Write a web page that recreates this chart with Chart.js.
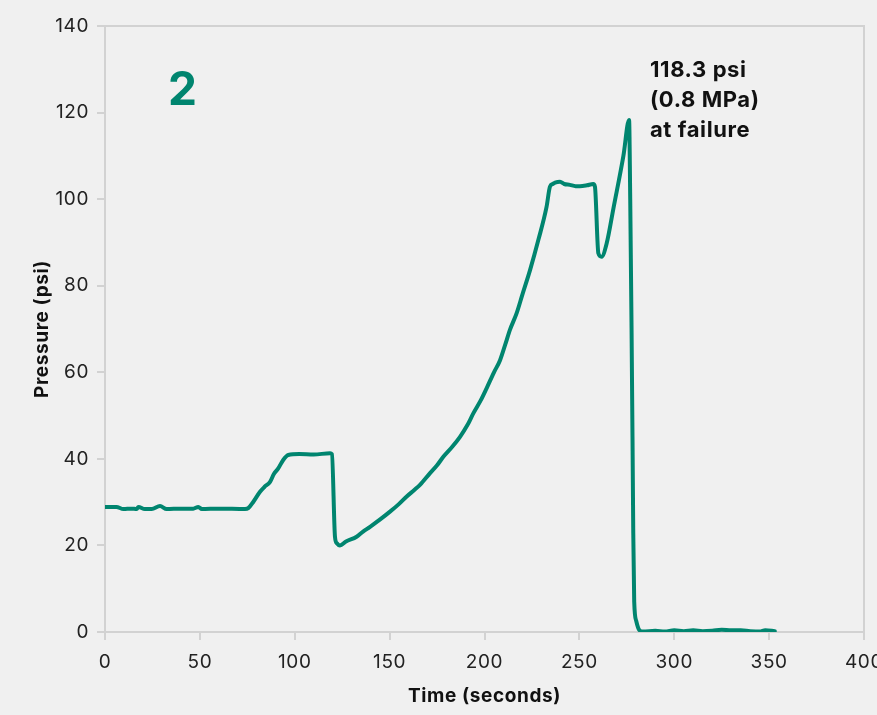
<!DOCTYPE html>
<html>
<head>
<meta charset="utf-8">
<script src="https://cdn.jsdelivr.net/npm/chart.js@4/dist/chart.umd.min.js"></script>
<style>
  html, body { margin: 0; padding: 0; background: #f0f0f0; }
  #wrap { width: 877px; height: 715px; }
</style>
</head>
<body>
<div id="wrap"><canvas id="c" width="877" height="715"></canvas></div>
<script>
// ---- data ----
const timeSeconds = [0, 6, 9.7, 14, 16.7, 17.6, 21, 24.6, 29, 32.5, 40, 46.5, 49.2, 51, 60, 73.8, 75.5, 78.2, 81.7, 84, 87, 89, 91.3, 94, 96.6, 102.4, 110, 118.6, 119.6, 121.2, 122.2, 123.8, 127, 132.6, 136, 139.7, 145, 150.2, 155, 159, 163, 166, 171.3, 175, 178.3, 183, 187.1, 191, 194.1, 198, 201.1, 205, 208.2, 211, 213.4, 216.9, 220, 224, 228.4, 232.7, 234.5, 236, 237.2, 239.8, 242, 245, 248, 250.3, 254, 257.3, 258.2, 260, 261.7, 264.4, 268, 273.2, 276.2, 276.8, 277.5, 278, 278.4, 278.9, 280, 281.5, 283.5, 290, 295, 300, 305, 310, 315, 320, 325, 330, 335, 340, 345, 348, 353];
const pressurePsi = [28.9, 28.9, 28.4, 28.5, 28.4, 28.9, 28.4, 28.4, 29.1, 28.4, 28.5, 28.5, 28.9, 28.4, 28.5, 28.4, 28.6, 30.1, 32.4, 33.5, 34.7, 36.5, 37.8, 39.8, 40.9, 41.1, 41.0, 41.3, 41.1, 22, 20.5, 20.0, 20.9, 22.0, 23.2, 24.3, 26.0, 27.8, 29.6, 31.3, 32.8, 34.0, 36.7, 38.5, 40.5, 42.8, 45.1, 47.8, 50.5, 53.5, 56.3, 60, 62.8, 66.5, 69.8, 73.6, 78, 83.6, 90.6, 98.2, 102.9, 103.5, 103.8, 104, 103.5, 103.3, 103, 103, 103.2, 103.5, 102.9, 87.5, 86.7, 89.8, 98, 110, 118.3, 100, 70, 45, 23, 7, 2.5, 0.5, 0.1, 0.3, 0.1, 0.4, 0.2, 0.4, 0.2, 0.3, 0.5, 0.4, 0.4, 0.2, 0.1, 0.4, 0.2];
const xTicks = [0, 50, 100, 150, 200, 250, 300, 350, 400];
const yTicks = [0, 20, 40, 60, 80, 100, 120, 140];
const panelLabel = "2";
const failureLabel = ["118.3 psi", "(0.8 MPa)", "at failure"];
const xTitle = "Time (seconds)";
const yTitle = "Pressure (psi)";

const TEAL = "#00856f";
const AXIS = "#d2d2d2";
const FONT = "Inter, 'Noto Sans', sans-serif";

const points = timeSeconds.map((t, i) => ({ x: t, y: pressurePsi[i] }));

const bgPlugin = {
  id: 'bg',
  beforeInit(chart) { chart.ctx.letterSpacing = '0.6px'; },
  beforeDraw(chart) {
    const ctx = chart.ctx;
    ctx.letterSpacing = '0.6px';
    ctx.save();
    ctx.fillStyle = '#f0f0f0';
    ctx.fillRect(0, 0, chart.width, chart.height);
    ctx.restore();
  }
};

const annPlugin = {
  id: 'ann',
  afterDatasetsDraw(chart) {
    const ctx = chart.ctx;
    const xs = chart.scales.x, ys = chart.scales.y;
    ctx.save();
    // panel number
    ctx.fillStyle = TEAL;
    ctx.font = "bold 46px " + FONT;
    ctx.textAlign = 'center';
    ctx.textBaseline = 'middle';
    ctx.fillText(panelLabel, xs.getPixelForValue(41), ys.getPixelForValue(125));
    // failure label
    const iPeak = pressurePsi.indexOf(Math.max(...pressurePsi));
    const lx = xs.getPixelForValue(timeSeconds[iPeak] + 11);
    let ly = ys.getPixelForValue(128.3);
    ctx.fillStyle = '#111';
    ctx.font = "bold 22px " + FONT;
    ctx.textAlign = 'left';
    ctx.textBaseline = 'alphabetic';
    failureLabel.forEach((s, k) => ctx.fillText(s, lx, ly + k * 30));
    ctx.restore();
  }
};

function fixY(scale) { scale.width = 105; scale.paddingTop = 0; scale.paddingBottom = 0; }
function fixX(scale) { scale.height = 83; scale.paddingLeft = 0; scale.paddingRight = 0; }

new Chart(document.getElementById('c'), {
  type: 'line',
  data: {
    datasets: [{
      data: points,
      borderColor: TEAL,
      borderWidth: 4,
      pointRadius: 0,
      fill: false,
      cubicInterpolationMode: 'monotone',
      borderCapStyle: 'round',
      borderJoinStyle: 'round'
    }]
  },
  options: {
    responsive: false,
    animation: false,
    devicePixelRatio: 1,
    layout: { padding: { top: 26, right: 13, left: 0, bottom: 0 } },
    plugins: { legend: { display: false }, tooltip: { enabled: false } },
    scales: {
      x: {
        type: 'linear',
        position: 'bottom',
        min: xTicks[0], max: xTicks[xTicks.length - 1],
        afterBuildTicks(s) { s.ticks = xTicks.map(v => ({ value: v })); },
        afterFit: fixX,
        grid: { display: true, drawOnChartArea: false, drawTicks: true, tickLength: 8, color: AXIS, lineWidth: 2 },
        border: { display: true, color: AXIS, width: 2 },
        ticks: { color: '#222', font: { family: FONT, size: 19 }, padding: 11, maxRotation: 0, autoSkip: false },
        title: { display: true, text: xTitle, color: '#111', font: { family: FONT, size: 19, weight: 'bold' }, padding: { top: 4, bottom: 7 } }
      },
      y: {
        type: 'linear',
        position: 'left',
        min: yTicks[0], max: yTicks[yTicks.length - 1],
        afterBuildTicks(s) { s.ticks = yTicks.map(v => ({ value: v })); },
        afterFit: fixY,
        grid: { display: true, drawOnChartArea: false, drawTicks: true, tickLength: 8, color: AXIS, lineWidth: 2 },
        border: { display: true, color: AXIS, width: 2 },
        ticks: { color: '#222', font: { family: FONT, size: 19 }, padding: 8 },
        title: { display: true, text: yTitle, color: '#111', font: { family: FONT, size: 19, weight: 'bold' }, padding: { top: 31, bottom: 0 } }
      },
      x2: {
        type: 'linear', position: 'top', min: 0, max: 1,
        grid: { display: false }, ticks: { display: false },
        border: { display: true, color: AXIS, width: 2 },
        afterFit(s) { s.height = 0; s.paddingLeft = 0; s.paddingRight = 0; }
      },
      y2: {
        type: 'linear', position: 'right', min: 0, max: 1,
        grid: { display: false }, ticks: { display: false },
        border: { display: true, color: AXIS, width: 2 },
        afterFit(s) { s.width = 0; s.paddingTop = 0; s.paddingBottom = 0; }
      }
    }
  },
  plugins: [bgPlugin, annPlugin]
});
</script>
</body>
</html>
